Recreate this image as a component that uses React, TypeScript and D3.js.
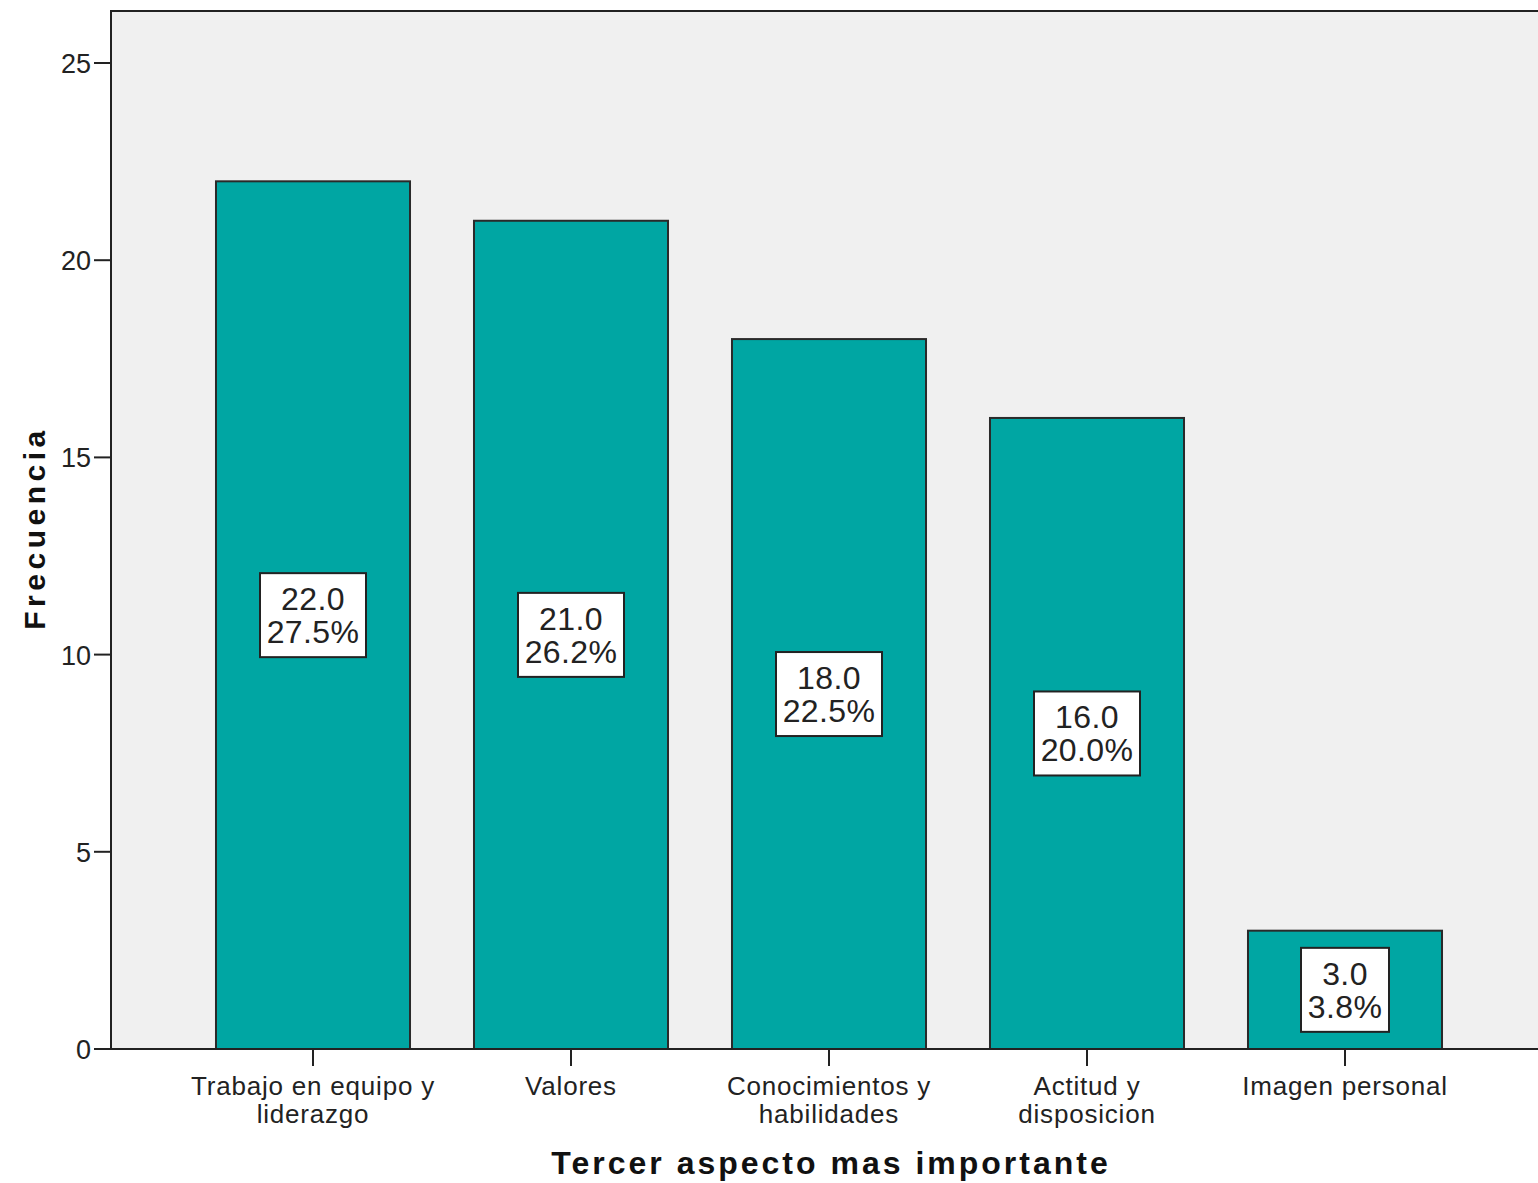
import React from "react";
import * as d3 from "d3";

const categories = [
  ["Trabajo en equipo y", "liderazgo"],
  ["Valores"],
  ["Conocimientos y", "habilidades"],
  ["Actitud y", "disposicion"],
  ["Imagen personal"],
];
const frequencies = [22, 21, 18, 16, 3];
const percents = ["27.5%", "26.2%", "22.5%", "20.0%", "3.8%"];
const yTicks = [0, 5, 10, 15, 20, 25];

const W = 1538;
const H = 1183;
const left = 111;
const top = 11;
const bottom = 1049;

export default function App() {
  React.useEffect(() => {
    document.body.style.margin = "0";
  }, []);
  const ids = categories.map((_, i) => String(i));
  const x = d3.scaleBand().domain(ids).range([184, 1474]).paddingInner(0.248).paddingOuter(0.124);
  const y = d3.scaleLinear().domain([0, 25]).range([bottom, 63]);
  const bw = x.bandwidth();
  return (
    <svg width={W} height={H} style={{ position: "absolute", left: 0, top: 0, background: "#fff" }}>
      <rect x={left} y={top} width={W - left + 10} height={bottom - top} fill="#f0f0f0" stroke="#222" strokeWidth={2} />
      {yTicks.map((t) => (
        <g key={t}>
          <line x1={94} x2={left} y1={y(t)} y2={y(t)} stroke="#222" strokeWidth={2} />
          <text x={91} y={y(t) + 10} textAnchor="end" fontFamily="Liberation Sans, Arial, sans-serif" fontSize={27} fill="#222">{t}</text>
        </g>
      ))}
      {frequencies.map((v, i) => {
        const x0 = x(String(i))!;
        const cx = x0 + bw / 2;
        const yt = y(v);
        const cy = (yt + bottom) / 2;
        const bwBox = i === 4 ? 88 : 106;
        return (
          <g key={i}>
            <rect x={x0} y={yt} width={bw} height={bottom - yt} fill="#00a6a3" stroke="#2a2a2a" strokeWidth={2} />
            <rect x={cx - bwBox / 2} y={cy - 42} width={bwBox} height={84} fill="#fff" stroke="#222" strokeWidth={2} />
            <text x={cx} y={cy - 5} textAnchor="middle" fontFamily="Liberation Sans, Arial, sans-serif" fontSize={32} letterSpacing={0.4} fill="#222">{v.toFixed(1)}</text>
            <text x={cx} y={cy + 28} textAnchor="middle" fontFamily="Liberation Sans, Arial, sans-serif" fontSize={32} letterSpacing={0.4} fill="#222">{percents[i]}</text>
            <line x1={cx} x2={cx} y1={bottom} y2={bottom + 17} stroke="#222" strokeWidth={2} />
            {categories[i].map((l, j) => (
              <text key={j} x={cx} y={bottom + 46 + j * 28} textAnchor="middle" fontFamily="Liberation Sans, Arial, sans-serif" fontSize={26} letterSpacing={0.8} fill="#222">{l}</text>
            ))}
          </g>
        );
      })}
      <line x1={left} x2={W} y1={bottom} y2={bottom} stroke="#222" strokeWidth={2} />
      <text x={831} y={1174} textAnchor="middle" fontFamily="Liberation Sans, Arial, sans-serif" fontWeight="bold" fontSize={32} fill="#111" letterSpacing={3}>Tercer aspecto mas importante</text>
      <text transform={`translate(45,528) rotate(-90)`} textAnchor="middle" fontFamily="Liberation Sans, Arial, sans-serif" fontWeight="bold" fontSize={30} fill="#111" letterSpacing={4.5}>Frecuencia</text>
    </svg>
  );
}
